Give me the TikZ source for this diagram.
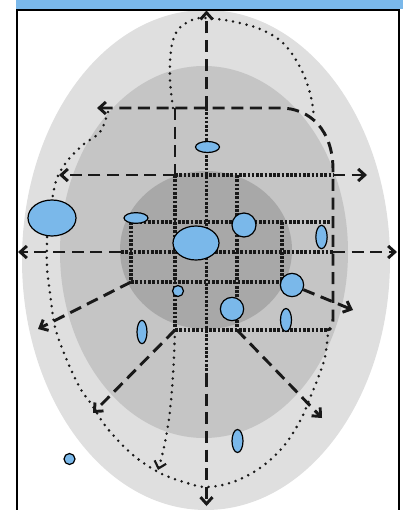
\documentclass[tikz,border=0pt]{standalone}
\usetikzlibrary{arrows.meta,shapes.geometric}
\definecolor{blobblue}{RGB}{122,184,234}
\definecolor{grayA}{RGB}{223,223,223}
\definecolor{grayB}{RGB}{197,197,197}
\definecolor{grayC}{RGB}{168,168,168}
\tikzset{
  barb/.tip={Straight Barb[length=5pt,width=9pt]},
  dashline/.style={line width=2.2pt,color=black!90,dash pattern=on 9pt off 5pt},
  gridline/.style={line width=2.4pt,color=black!90,dash pattern=on 2pt off 1.2pt},
  dotline/.style={line width=2.1pt,color=black!90,line cap=round,dash pattern=on 0pt off 5.2pt},
  blob/.style={ellipse,draw=black,line width=0.9pt,fill=blobblue,inner sep=0pt},
}
\begin{document}
\begin{tikzpicture}[x=0.75pt,y=-0.75pt]
\useasboundingbox (0,0) rectangle (403,510);
\clip (0,0) rectangle (403,510);
% background zones
\fill[grayA] (206,260) ellipse [x radius=138pt, y radius=187.5pt];
\fill[grayB] (204,252) ellipse [x radius=108pt, y radius=139.5pt];
\fill[grayC] (206,250) ellipse [x radius=64.5pt, y radius=59.25pt];
% header band and frame
\fill[blobblue] (16,0) rectangle (403,9);
\draw[line width=1.6pt] (17,520) -- (17,9.6) -- (398.6,9.6) -- (398.6,520);
% named points
\coordinate (tA) at (206.5,10.5);
\coordinate (bA) at (206.5,506);
\coordinate (lA) at (18,252);
\coordinate (rA) at (397,252);
\coordinate (tL) at (97,108);
\coordinate (mL) at (59,175);
\coordinate (mR) at (367,175);
\coordinate (p175a) at (175,108);
\coordinate (p175b) at (175,175);
\coordinate (p175c) at (175,330);
\coordinate (p206a) at (206.5,108);
\coordinate (p206b) at (206.5,375);
\coordinate (p237a) at (237,175);
\coordinate (p237b) at (237,330);
\coordinate (p131a) at (131,222);
\coordinate (p131b) at (131,282);
\coordinate (p282a) at (282,222);
\coordinate (p282b) at (282,282);
\coordinate (p333a) at (333,175);
\coordinate (p333b) at (333,222);
\coordinate (p333c) at (333,252);
\coordinate (p121) at (121,252);
\coordinate (cBR) at (327,330);
\coordinate (r1) at (38,329);
\coordinate (r2) at (93,413);
\coordinate (r3) at (322,418);
\coordinate (r4) at (353,310);
\coordinate (sA) at (158,470);
% dotted thin curves
\draw[dotline] plot[smooth,tension=0.6] coordinates {(173,108) (170,80) (171,50) (177,31) (188,22) (200,18) (217,19) (235,22) (260,29) (283,43) (300,67) (310,93) (314,117)};
\draw[dotline] plot[smooth,tension=0.6] coordinates {(108,112) (100,132) (84,144) (68,160) (57,178) (52,200) (48,220) (47,240) (47,267) (50,293) (55,327) (66,358) (80,388) (92,405) (107,428) (133,455) (160,473) (187,483) (207,487) (233,482) (260,468) (283,447) (300,421) (310,398) (318,378) (325,357) (328,333)};
\draw[dotline,-{Straight Barb[length=5pt,width=9pt,line width=1.6pt]}] (p175c) .. controls (173,390) and (170,430) .. (sA);
% dashed frame path
\draw[dashline,barb-] (tL) -- (p175a) -- (280,108) .. controls (310,108) and (333,130) .. (333,170) -- (333,318) .. controls (333,326) and (331,330) .. (cBR);
% central axes
\draw[dashline,-barb] (p206a) -- (tA);
\draw[gridline] (p206a) -- (p206b);
\draw[dashline,-barb] (p206b) -- (bA);
\draw[dashline,-barb] (p121) -- (lA);
\draw[gridline] (p121) -- (p333c);
\draw[dashline,-barb] (p333c) -- (rA);
% y=175
\draw[dashline,-barb] (p175b) -- (mL);
\draw[gridline] (p175b) -- (p333a);
\draw[dashline,-barb] (p333a) -- (mR);
% grid
\draw[dashline] (p175a) -- (p175b);
\draw[gridline] (p175b) -- (p175c);
\draw[gridline] (p237a) -- (p237b);
\draw[gridline] (p131a) -- (p333b);
\draw[gridline] (p131a) -- (p131b);
\draw[gridline] (p282a) -- (p282b);
\draw[gridline] (p131b) -- (p282b);
\draw[gridline] (p175c) -- (cBR);
% radial arrows
\draw[dashline,-barb] (p131b) -- (r1);
\draw[dashline,-barb] (p175c) -- (r2);
\draw[dashline,-barb] (p237b) -- (r3);
% blobs
\node[blob,minimum width=36pt,minimum height=27pt] (e1) at (52,218) {};
\node[blob,minimum width=18pt,minimum height=8pt] (e2) at (136,218) {};
\node[blob,minimum width=34.5pt,minimum height=25.5pt] (e3) at (196,243) {};
\node[blob,minimum width=18pt,minimum height=18pt] (c4) at (244,225) {};
\node[blob,minimum width=18pt,minimum height=8.25pt] (e5) at (207.5,147) {};
\node[blob,minimum width=8.5pt,minimum height=17.5pt] (e6) at (321.5,237) {};
\node[blob,minimum width=17.5pt,minimum height=17.5pt] (c7) at (292,285) {};
\node[blob,minimum width=8.25pt,minimum height=8.25pt] (c8) at (178,291) {};
\node[blob,minimum width=17.5pt,minimum height=17.5pt] (c9) at (232,309) {};
\node[blob,minimum width=7.5pt,minimum height=17.5pt] (e10) at (142,332) {};
\node[blob,minimum width=8.25pt,minimum height=17.25pt] (e11) at (286,320) {};
\node[blob,minimum width=8.25pt,minimum height=17.25pt] (e12) at (237.5,441) {};
\node[blob,minimum width=8.25pt,minimum height=8.25pt] (c13) at (69.5,459) {};
\draw[dashline,-barb] (c7) -- (r4);
\end{tikzpicture}
\end{document}
